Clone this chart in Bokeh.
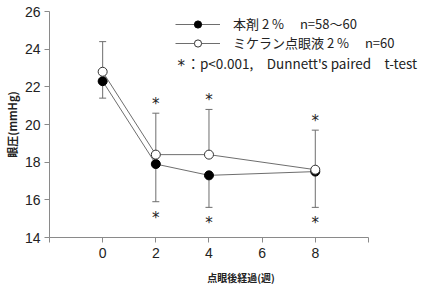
import math
from bokeh.plotting import figure
from bokeh.models import (Whisker, TeeHead, Legend, LegendItem, Label, Title,
                          FixedTicker, ColumnDataSource)
from bokeh.core.properties import value
from bokeh.embed import file_html
from bokeh.resources import INLINE

weeks = [0, 2, 4, 8]
drug_mean = [22.3, 17.9, 17.3, 17.5]
drug_lower = [21.4, 15.9, 15.6, 15.6]
mik_mean = [22.8, 18.4, 18.4, 17.6]
mik_upper = [24.4, 20.6, 20.8, 19.7]
sig_weeks = [2, 4, 8]
sig_upper = [20.6, 20.8, 19.7]
sig_lower = [15.9, 15.6, 15.6]

x_ticks = [-2, 0, 2, 4, 6, 8, 10]
y_ticks = [14, 16, 18, 20, 22, 24, 26]

label_drug = "本剤 2 %　 n=58〜60"
label_mik = "ミケラン点眼液 2 %　 n=60"
note_star = "*"
note = "：p<0.001,　Dunnett's paired　t-test"
x_title = "点眼後経過(週)"
y_title = "眼圧(mmHg)"

JP = "Noto Sans CJK JP"
NUM = "Liberation Sans"
STAR = "DejaVu Sans"
GRAY = "#6e6e6e"

p = figure(width=432, height=287, x_range=(-2, 12.41), y_range=(14, 26),
           output_backend="svg", toolbar_location=None,
           min_border_left=49, min_border_right=0,
           min_border_top=11, min_border_bottom=45)
p.outline_line_color = None
p.xgrid.grid_line_color = None
p.ygrid.grid_line_color = None
p.background_fill_color = "white"

for ax in (p.xaxis[0], p.yaxis[0]):
    ax.axis_line_color = "#8a8a8a"
    ax.major_tick_line_color = "#8a8a8a"
    ax.minor_tick_line_color = None
    ax.major_tick_in = 0
    ax.major_tick_out = 5
    ax.major_label_text_font = NUM
    ax.major_label_text_font_size = "14px"
    ax.major_label_text_color = "#222222"

p.xaxis.ticker = FixedTicker(ticks=x_ticks)
p.xaxis.bounds = (-2, 10)
p.xaxis.major_label_overrides = {-2: "", 10: ""}
p.xaxis.major_label_standoff = 5
p.yaxis.ticker = FixedTicker(ticks=y_ticks)
p.yaxis.major_label_standoff = 4

p.xaxis.axis_label = x_title
p.xaxis.axis_label_text_font = JP
p.xaxis.axis_label_text_font_size = "10px"
p.xaxis.axis_label_text_font_style = "bold"
p.xaxis.axis_label_text_color = "#222222"
p.xaxis.axis_label_standoff = 9

# y title as a left-side title, shifted down like the reference
p.add_layout(Title(text=y_title, align="center", offset=-33,
                   text_font=JP, text_font_size="11px", text_font_style="bold",
                   text_color="#222222", standoff=3), "left")

# error bars
src_m = ColumnDataSource(dict(x=weeks, lo=mik_mean, hi=mik_upper))
src_d = ColumnDataSource(dict(x=weeks, lo=drug_lower, hi=drug_mean))
p.add_layout(Whisker(source=src_m, base="x", lower="lo", upper="hi",
                     line_color=GRAY, line_width=1,
                     upper_head=TeeHead(size=7, line_color=GRAY, line_width=1),
                     lower_head=None))
p.add_layout(Whisker(source=src_d, base="x", lower="lo", upper="hi",
                     line_color=GRAY, line_width=1,
                     lower_head=TeeHead(size=7, line_color=GRAY, line_width=1),
                     upper_head=None))

l2 = p.line(weeks, drug_mean, line_color=GRAY, line_width=1)
s2 = p.scatter(weeks, drug_mean, size=9, marker="circle",
               fill_color="black", line_color="black", line_width=1)
l1 = p.line(weeks, mik_mean, line_color=GRAY, line_width=1)
s1 = p.scatter(weeks, mik_mean, size=9, marker="circle",
               fill_color="white", line_color="#333333", line_width=1)

# significance marks
p.text(sig_weeks, sig_upper, text=[note_star] * len(sig_weeks), y_offset=-9,
       text_font=value(STAR), text_font_size="15px", text_align="center",
       text_baseline="middle", text_color="#222222")
p.text(sig_weeks, sig_lower, text=[note_star] * len(sig_weeks), y_offset=16,
       text_font=value(STAR), text_font_size="15px", text_align="center",
       text_baseline="middle", text_color="#222222")

legend = Legend(items=[LegendItem(label=label_drug, renderers=[l2, s2]),
                       LegendItem(label=label_mik, renderers=[l1, s1])],
                location=(126, 185), orientation="vertical",
                glyph_width=45, glyph_height=18, label_height=18,
                label_standoff=13, spacing=0, padding=0, margin=0,
                border_line_color=None, background_fill_alpha=0,
                label_text_font=JP, label_text_font_size="13px",
                label_text_color="#222222")
p.add_layout(legend, "center")

p.add_layout(Label(x=2.82, y=23.25, text=note_star, text_font=STAR,
                   text_font_size="15px", text_color="#222222", y_offset=-3,
                   text_baseline="middle", text_align="left"))
p.add_layout(Label(x=3.15, y=23.25, text=note, text_font=JP,
                   text_font_size="13.5px", text_color="#222222",
                   text_baseline="middle", text_align="left"))

open("out.html", "w").write(file_html(p, INLINE))
